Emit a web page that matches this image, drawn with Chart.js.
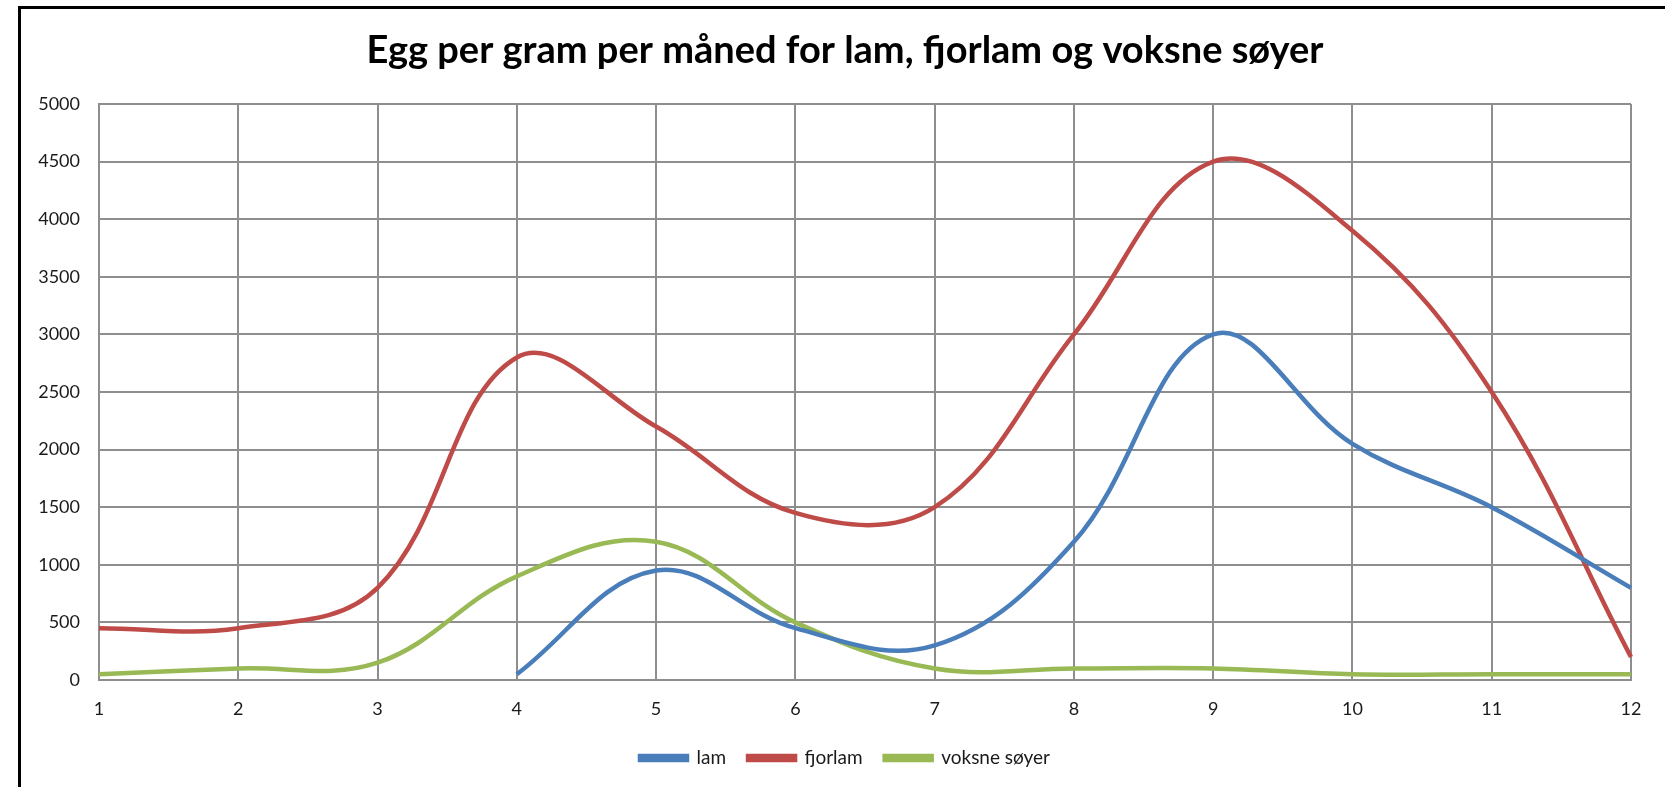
<!DOCTYPE html>
<html>
<head>
<meta charset="utf-8">
<title>Egg per gram per måned</title>
<script src="https://cdn.jsdelivr.net/npm/chart.js@4.4.1/dist/chart.umd.min.js"></script>
<style>
  html, body { margin: 0; padding: 0; background: #fff; overflow: hidden; }
  #frame {
    position: absolute; left: 18px; top: 6px;
    width: 2000px; height: 2000px;
    border: 3px solid #000;
  }
  #chart { position: absolute; left: 0; top: 0; }
</style>
</head>
<body>
<div id="frame"></div>
<canvas id="chart" width="1665" height="787"></canvas>
<script>
// months on the x axis
const months = ['1', '2', '3', '4', '5', '6', '7', '8', '9', '10', '11', '12'];

// egg per gram
const lam = [null, null, null, 50, 950, 450, 300, 1200, 3000, 2050, 1500, 800];
const fjorlam = [450, 450, 800, 2800, 2200, 1450, 1500, 3000, 4500, 3900, 2500, 200];
const voksneSoyer = [50, 100, 150, 900, 1200, 500, 100, 100, 100, 50, 50, 50];

const yMin = 0;
const yMax = 5000;
const yStep = 500;

const gridColor = '#8e8e8e';
const tickFont = { family: 'Lato, "Open Sans", sans-serif', size: 18 };
const legendFont = { family: 'Lato, "Open Sans", sans-serif', size: 19 };

function line(label, data, color) {
  return {
    label: label,
    data: data,
    borderColor: color,
    backgroundColor: color,
    borderWidth: 4.5,
    pointRadius: 0,
    tension: 0.38,
    fill: false
  };
}

new Chart(document.getElementById('chart'), {
  type: 'line',
  data: {
    labels: months,
    datasets: [
      line('lam', lam, '#4a7ebb'),
      line('fjorlam', fjorlam, '#be4b48'),
      line('voksne søyer', voksneSoyer, '#98b954')
    ]
  },
  options: {
    responsive: false,
    animation: false,
    devicePixelRatio: 1,
    layout: { padding: { left: 34, right: 9, top: 10, bottom: 9.5 } },
    plugins: {
      title: {
        display: true,
        text: 'Egg per gram per måned for lam, fjorlam og voksne søyer',
        color: '#000',
        font: { family: 'Lato, "Open Sans", sans-serif', size: 38, weight: 'bold' },
        padding: { top: 18.2, bottom: 30.2 }
      },
      legend: {
        position: 'bottom',
        labels: {
          color: '#1a1a1a',
          font: legendFont,
          boxWidth: 47,
          boxHeight: 4,
          padding: 22
        }
      },
      tooltip: { enabled: false }
    },
    scales: {
      x: {
        grid: { color: gridColor, lineWidth: 2, drawTicks: false },
        border: { color: gridColor, width: 2 },
        ticks: { color: '#1a1a1a', font: tickFont, padding: 18, maxRotation: 0 },
        afterFit: function (scale) {
          scale.height = 46.5;
          scale.paddingRight = 34; // room right of the plot, keeps title centred like the original
        }
      },
      y: {
        min: yMin,
        max: yMax,
        grid: { color: gridColor, lineWidth: 2, drawTicks: false },
        border: { color: gridColor, width: 2 },
        ticks: {
          stepSize: yStep, color: '#1a1a1a', font: tickFont, padding: 19,
          callback: function (v) { return String(v); }
        },
        afterFit: function (scale) { scale.width = 65; }
      }
    }
  }
});
</script>
</body>
</html>
